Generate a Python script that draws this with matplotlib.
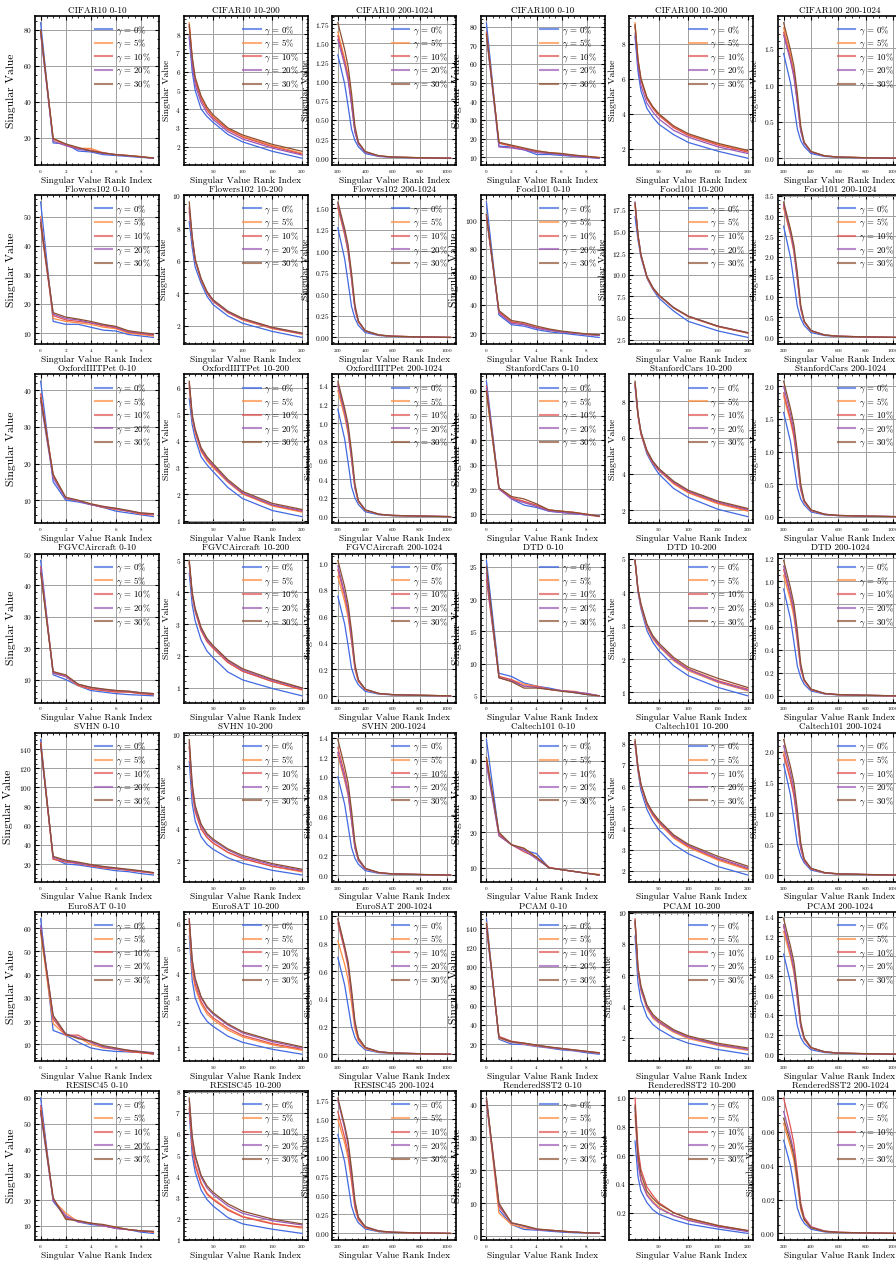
import matplotlib
matplotlib.use('Agg')
import matplotlib.pyplot as plt
from matplotlib.ticker import MultipleLocator, AutoMinorLocator

plt.rcParams['font.family'] = 'serif'
plt.rcParams['font.serif'] = ['cmr10', 'DejaVu Serif']
plt.rcParams['mathtext.fontset'] = 'cm'
plt.rcParams['axes.formatter.use_mathtext'] = True
plt.rcParams['axes.unicode_minus'] = False

# rank indices of the three zoom windows
rank_head = [0, 1, 2, 3, 4, 5, 6, 7, 8, 9]
rank_mid = [10, 15, 20, 30, 40, 50, 75, 100, 150, 200]
rank_tail = [200, 250, 275, 300, 325, 350, 400, 500, 600, 800, 1024]

gammas = ['0%', '5%', '10%', '20%', '30%']
colors = ['#4169E1', '#FF8C42', '#E05252', '#9B59B6', '#8C5030']

datasets = ['CIFAR10', 'CIFAR100', 'Flowers102', 'Food101', 'OxfordIIITPet', 'StanfordCars',
            'FGVCAircraft', 'DTD', 'SVHN', 'Caltech101', 'EuroSAT', 'PCAM', 'RESISC45', 'RenderedSST2']

# singular values, one list per gamma (0, 5, 10, 20, 30 %)
cifar10_head = [[84, 17, 16.5, 12.5, 12, 10.5, 10, 9.5, 9, 8.5],
                [79, 19, 16, 14, 14, 11.5, 10.5, 10, 9.5, 8.5],
                [79, 19.5, 16, 14, 13, 11.5, 10.5, 10, 9.3, 8.5],
                [78, 18, 15.5, 13.5, 12.5, 11, 10.5, 9.8, 9.2, 8.5],
                [80, 19.5, 16.5, 14.5, 12.5, 11.5, 10.5, 10, 9.3, 8.7]]
cifar10_mid = [[7.8, 6.0, 5.0, 4.0, 3.6, 3.3, 2.65, 2.25, 1.75, 1.38],
               [8.6, 6.7, 5.6, 4.6, 4.0, 3.6, 2.95, 2.55, 2.05, 1.65],
               [8.4, 6.6, 5.5, 4.5, 3.95, 3.55, 2.9, 2.5, 2.0, 1.6],
               [7.9, 6.3, 5.3, 4.35, 3.8, 3.45, 2.8, 2.4, 1.92, 1.55],
               [8.5, 6.8, 5.7, 4.7, 4.1, 3.7, 3.0, 2.62, 2.12, 1.75]]
cifar10_tail = [[1.35, 0.97, 0.68, 0.38, 0.23, 0.15, 0.061, 0.023, 0.012, 0.005, 0],
                [1.65, 1.30, 1.09, 0.74, 0.36, 0.20, 0.083, 0.030, 0.015, 0.007, 0],
                [1.6, 1.26, 1.06, 0.72, 0.35, 0.19, 0.08, 0.029, 0.014, 0.006, 0],
                [1.55, 1.22, 1.02, 0.70, 0.34, 0.19, 0.078, 0.028, 0.014, 0.006, 0],
                [1.77, 1.42, 1.20, 0.85, 0.42, 0.21, 0.089, 0.032, 0.016, 0.007, 0]]

cifar100_head = [[82, 16, 15.5, 14, 11.5, 11.5, 11, 10.5, 10, 9.5],
                 [76, 18, 16, 14.5, 13.5, 12.5, 12, 11, 10.5, 10],
                 [77, 17.5, 16, 14.5, 13, 12.5, 11.5, 11, 10.5, 9.8],
                 [75, 15.5, 15, 14, 12.5, 12, 11.5, 10.5, 10, 9.5],
                 [76, 18, 16.5, 15, 13.5, 12.5, 12, 11.2, 10.5, 9.8]]
cifar100_mid = [[8.4, 6.4, 5.3, 4.3, 3.8, 3.4, 2.8, 2.35, 1.85, 1.45],
                [9.2, 7.1, 6.0, 4.9, 4.35, 3.95, 3.25, 2.8, 2.25, 1.85],
                [9.0, 7.0, 5.9, 4.85, 4.3, 3.9, 3.2, 2.75, 2.2, 1.8],
                [8.6, 6.7, 5.6, 4.6, 4.1, 3.7, 3.05, 2.65, 2.1, 1.72],
                [9.1, 7.1, 6.0, 4.95, 4.4, 4.0, 3.3, 2.85, 2.3, 1.9]]
cifar100_tail = [[1.43, 1.03, 0.72, 0.40, 0.24, 0.16, 0.064, 0.024, 0.013, 0.006, 0],
                 [1.78, 1.41, 1.17, 0.80, 0.39, 0.21, 0.089, 0.032, 0.016, 0.007, 0],
                 [1.72, 1.36, 1.14, 0.77, 0.38, 0.21, 0.086, 0.031, 0.015, 0.007, 0],
                 [1.68, 1.33, 1.11, 0.76, 0.37, 0.20, 0.084, 0.030, 0.015, 0.007, 0],
                 [1.85, 1.48, 1.26, 0.89, 0.44, 0.22, 0.093, 0.033, 0.017, 0.007, 0]]

flowers102_head = [[55, 14, 13, 13, 12, 11, 10.7, 9.5, 9, 8.5],
                   [50, 15, 14, 13.5, 13, 12, 11.5, 10, 9.5, 9],
                   [47, 16, 14.5, 14, 13.5, 12.5, 11.8, 10.3, 9.8, 9.3],
                   [49, 16.5, 15, 14.5, 13.5, 12.8, 12, 10.5, 10, 9.5],
                   [48, 17, 15.5, 14.8, 14, 13, 12.3, 10.8, 10.2, 9.7]]
flowers102_mid = [[8.4, 6.8, 5.6, 4.6, 3.8, 3.3, 2.6, 2.15, 1.65, 1.28],
                  [9.2, 7.3, 6.0, 4.8, 4.0, 3.5, 2.8, 2.35, 1.82, 1.48],
                  [9.0, 7.3, 6.0, 4.8, 4.0, 3.5, 2.82, 2.38, 1.85, 1.5],
                  [9.3, 7.4, 6.05, 4.85, 4.05, 3.55, 2.85, 2.42, 1.88, 1.52],
                  [9.6, 7.5, 6.1, 4.9, 4.1, 3.6, 2.9, 2.45, 1.9, 1.55]]
flowers102_tail = [[1.27, 0.91, 0.64, 0.36, 0.22, 0.14, 0.057, 0.022, 0.011, 0.005, 0],
                   [1.5, 1.19, 0.99, 0.68, 0.33, 0.18, 0.075, 0.027, 0.014, 0.006, 0],
                   [1.52, 1.20, 1.0, 0.68, 0.33, 0.18, 0.076, 0.027, 0.014, 0.006, 0],
                   [1.55, 1.22, 1.02, 0.70, 0.34, 0.19, 0.078, 0.028, 0.014, 0.006, 0],
                   [1.57, 1.26, 1.07, 0.75, 0.38, 0.19, 0.079, 0.028, 0.014, 0.006, 0]]

food101_head = [[113, 33, 26, 25, 22.5, 21, 20, 19, 18, 17],
                [104, 35, 28, 26.5, 24, 22, 21, 20, 19, 18.5],
                [102, 35, 28, 26.5, 24, 22.5, 21, 20, 19.5, 18.5],
                [104, 34, 27, 26, 23.5, 22, 21, 20, 19, 18.5],
                [104, 36, 29, 27.5, 25, 23, 21.5, 20.5, 19.5, 19]]
food101_mid = [[16.7, 14.0, 12.0, 9.6, 8.3, 7.3, 5.8, 4.6, 3.5, 2.75],
               [18.2, 14.5, 12.2, 9.7, 8.4, 7.6, 6.15, 5.15, 4.0, 3.25],
               [18.0, 14.4, 12.2, 9.7, 8.4, 7.6, 6.15, 5.15, 4.0, 3.25],
               [18.4, 14.6, 12.3, 9.8, 8.5, 7.65, 6.2, 5.2, 4.05, 3.3],
               [18.3, 14.6, 12.3, 9.8, 8.5, 7.65, 6.2, 5.2, 4.05, 3.3]]
food101_tail = [[2.75, 1.98, 1.38, 0.77, 0.47, 0.30, 0.12, 0.047, 0.025, 0.011, 0],
                [3.2, 2.53, 2.11, 1.44, 0.70, 0.38, 0.16, 0.058, 0.029, 0.013, 0],
                [3.25, 2.57, 2.15, 1.46, 0.72, 0.39, 0.16, 0.059, 0.029, 0.013, 0],
                [3.3, 2.61, 2.18, 1.49, 0.73, 0.40, 0.17, 0.059, 0.030, 0.013, 0],
                [3.35, 2.68, 2.28, 1.61, 0.80, 0.40, 0.17, 0.06, 0.03, 0.013, 0]]

pets_head = [[42.5, 15, 10, 9.5, 8.8, 8, 7, 6.5, 6, 5.5],
             [38, 16.5, 10.5, 9.8, 9, 8.2, 7.5, 7, 6.2, 6],
             [39, 17, 10.5, 9.8, 8.8, 8, 7.5, 7, 6.2, 6],
             [37, 16, 10.5, 9.8, 8.8, 8.2, 7.7, 7, 6.5, 6.2],
             [38, 17, 10.8, 10, 9, 8.3, 7.8, 7.2, 6.5, 6.3]]
pets_mid = [[5.6, 4.6, 4.1, 3.4, 3.1, 2.85, 2.25, 1.83, 1.38, 1.15],
            [6.0, 4.85, 4.3, 3.6, 3.25, 3.0, 2.45, 2.0, 1.55, 1.32],
            [6.1, 4.9, 4.35, 3.65, 3.3, 3.05, 2.48, 2.02, 1.58, 1.35],
            [6.2, 4.9, 4.4, 3.7, 3.35, 3.1, 2.5, 2.05, 1.6, 1.38],
            [6.25, 5.0, 4.45, 3.75, 3.4, 3.15, 2.55, 2.1, 1.65, 1.42]]
pets_tail = [[1.15, 0.83, 0.58, 0.32, 0.20, 0.13, 0.052, 0.020, 0.010, 0.005, 0],
             [1.35, 1.07, 0.89, 0.61, 0.30, 0.16, 0.068, 0.024, 0.012, 0.005, 0],
             [1.4, 1.11, 0.92, 0.63, 0.31, 0.17, 0.07, 0.025, 0.013, 0.006, 0],
             [1.42, 1.12, 0.94, 0.64, 0.31, 0.17, 0.071, 0.026, 0.013, 0.006, 0],
             [1.45, 1.16, 0.99, 0.70, 0.35, 0.17, 0.073, 0.026, 0.013, 0.006, 0]]

cars_head = [[64, 20.5, 16, 13.5, 12.5, 11, 10.5, 10, 9.5, 9.2],
             [59, 20, 16.5, 15, 13, 11.5, 11, 10.5, 9.5, 8.8],
             [62, 20.5, 16.5, 15, 13.5, 11.5, 11, 10.5, 9.8, 9],
             [61, 20, 16, 14.5, 13, 11, 10.5, 10, 9.5, 9],
             [60, 20.5, 17, 16, 14, 11.5, 11, 10.5, 9.8, 9]]
cars_mid = [[8.8, 7.2, 6.2, 5.1, 4.5, 4.0, 3.2, 2.7, 2.05, 1.65],
            [9.0, 7.2, 6.2, 5.2, 4.6, 4.2, 3.45, 2.95, 2.35, 1.95],
            [8.9, 7.2, 6.2, 5.2, 4.6, 4.2, 3.5, 3.0, 2.4, 2.0],
            [9.0, 7.3, 6.3, 5.25, 4.65, 4.25, 3.55, 3.05, 2.45, 2.05],
            [9.1, 7.3, 6.3, 5.3, 4.7, 4.3, 3.6, 3.1, 2.5, 2.1]]
cars_tail = [[1.6, 1.15, 0.80, 0.45, 0.27, 0.18, 0.072, 0.027, 0.014, 0.006, 0],
             [1.85, 1.46, 1.22, 0.83, 0.41, 0.22, 0.093, 0.033, 0.017, 0.007, 0],
             [1.9, 1.50, 1.25, 0.86, 0.42, 0.23, 0.095, 0.034, 0.017, 0.008, 0],
             [2.0, 1.58, 1.32, 0.90, 0.44, 0.24, 0.10, 0.036, 0.018, 0.008, 0],
             [2.08, 1.66, 1.41, 1.0, 0.50, 0.25, 0.104, 0.037, 0.019, 0.008, 0]]

aircraft_head = [[48, 11.5, 10, 8, 6.5, 6, 5.5, 5.2, 5, 4.8],
                 [45, 12, 11, 8, 7, 6.5, 6.2, 6, 5.5, 5.2],
                 [46, 12.5, 11, 8.2, 7, 6.5, 6, 6, 5.5, 5.2],
                 [45, 12, 11, 8.5, 7.5, 6.8, 6.5, 6.2, 5.8, 5.5],
                 [44, 12.5, 11.5, 8.5, 7.5, 7, 6.5, 6.3, 5.8, 5.5]]
aircraft_mid = [[4.6, 3.6, 3.1, 2.5, 2.15, 1.95, 1.5, 1.25, 0.98, 0.75],
                [4.9, 3.9, 3.4, 2.8, 2.45, 2.25, 1.8, 1.52, 1.2, 0.93],
                [4.9, 3.9, 3.4, 2.8, 2.45, 2.25, 1.8, 1.52, 1.2, 0.95],
                [4.95, 3.95, 3.45, 2.85, 2.5, 2.3, 1.85, 1.56, 1.24, 0.98],
                [5.0, 4.0, 3.5, 2.9, 2.55, 2.33, 1.88, 1.6, 1.27, 1.0]]
aircraft_tail = [[0.75, 0.54, 0.38, 0.21, 0.13, 0.083, 0.034, 0.013, 0.007, 0.003, 0],
                 [0.9, 0.71, 0.59, 0.41, 0.20, 0.11, 0.045, 0.016, 0.008, 0.004, 0],
                 [0.95, 0.75, 0.63, 0.43, 0.21, 0.11, 0.048, 0.017, 0.009, 0.004, 0],
                 [0.98, 0.77, 0.65, 0.44, 0.22, 0.12, 0.049, 0.018, 0.009, 0.004, 0],
                 [1.02, 0.82, 0.69, 0.49, 0.24, 0.12, 0.051, 0.018, 0.009, 0.004, 0]]

dtd_head = [[26, 8.5, 8, 7, 6.5, 6.2, 5.8, 5.5, 5.2, 5],
            [24, 8, 7.5, 6.8, 6.5, 6, 5.8, 5.7, 5.3, 5],
            [23, 8, 7.5, 6.5, 6.5, 6, 5.8, 5.6, 5.3, 5],
            [24, 7.8, 7.3, 6.5, 6.3, 6, 5.8, 5.6, 5.4, 5],
            [25, 7.8, 7.2, 6.2, 6.2, 6, 5.7, 5.5, 5.2, 5]]
dtd_mid = [[4.95, 4.0, 3.5, 2.85, 2.5, 2.25, 1.8, 1.5, 1.15, 0.9],
           [4.95, 4.05, 3.55, 2.95, 2.6, 2.38, 1.95, 1.65, 1.3, 1.05],
           [4.95, 4.05, 3.6, 3.0, 2.65, 2.42, 2.0, 1.7, 1.35, 1.1],
           [4.95, 4.05, 3.6, 3.0, 2.65, 2.42, 1.98, 1.68, 1.32, 1.07],
           [4.95, 4.1, 3.65, 3.05, 2.7, 2.48, 2.05, 1.75, 1.42, 1.15]]
dtd_tail = [[0.93, 0.67, 0.47, 0.26, 0.16, 0.10, 0.042, 0.016, 0.008, 0.004, 0],
            [1.05, 0.83, 0.69, 0.47, 0.23, 0.13, 0.053, 0.019, 0.009, 0.004, 0],
            [1.1, 0.87, 0.73, 0.50, 0.24, 0.13, 0.055, 0.020, 0.010, 0.004, 0],
            [1.13, 0.89, 0.75, 0.51, 0.25, 0.14, 0.057, 0.020, 0.010, 0.005, 0],
            [1.18, 0.94, 0.80, 0.57, 0.28, 0.14, 0.059, 0.021, 0.011, 0.005, 0]]

svhn_head = [[150, 26, 20, 19, 17, 15, 13, 12, 10, 8.5],
             [146, 25, 23, 21, 18.5, 16, 15, 13.5, 12, 10.5],
             [147, 25, 22, 20.5, 18, 16, 15, 13.5, 12, 10.5],
             [143, 27, 23, 21, 19, 17, 15.5, 14, 12.5, 11],
             [145, 28, 24, 22, 19.5, 17.5, 16, 14.5, 13, 11]]
svhn_mid = [[8.3, 5.6, 4.5, 3.5, 3.0, 2.7, 2.15, 1.8, 1.35, 1.05],
            [9.3, 6.4, 5.1, 4.0, 3.45, 3.1, 2.5, 2.1, 1.6, 1.25],
            [9.2, 6.4, 5.1, 4.0, 3.45, 3.1, 2.5, 2.1, 1.6, 1.3],
            [9.5, 6.7, 5.3, 4.2, 3.6, 3.25, 2.65, 2.2, 1.7, 1.35],
            [9.7, 6.9, 5.5, 4.3, 3.7, 3.35, 2.72, 2.3, 1.78, 1.42]]
svhn_tail = [[1.0, 0.72, 0.50, 0.28, 0.17, 0.11, 0.045, 0.017, 0.009, 0.004, 0],
             [1.22, 0.96, 0.81, 0.55, 0.27, 0.15, 0.061, 0.022, 0.011, 0.005, 0],
             [1.3, 1.03, 0.86, 0.59, 0.29, 0.16, 0.065, 0.023, 0.012, 0.005, 0],
             [1.25, 0.99, 0.83, 0.56, 0.28, 0.15, 0.063, 0.023, 0.011, 0.005, 0],
             [1.38, 1.10, 0.94, 0.66, 0.33, 0.17, 0.069, 0.025, 0.012, 0.006, 0]]

caltech_head = [[46, 19.5, 16.5, 15, 14, 10, 9.5, 9, 8.5, 8],
                [41, 19, 16.5, 15.5, 13, 10, 9.5, 9, 8.5, 8.2],
                [40, 19.5, 16.5, 14.5, 13, 10.2, 9.5, 9, 8.5, 8],
                [39, 19, 16.5, 15, 12.5, 10, 9.5, 9, 8.5, 8],
                [41, 20, 16.5, 15.5, 13, 10, 9.5, 9, 8.5, 8]]
caltech_mid = [[8.0, 6.7, 5.8, 4.9, 4.35, 3.95, 3.25, 2.8, 2.2, 1.8],
               [8.0, 6.8, 6.0, 5.1, 4.6, 4.25, 3.55, 3.1, 2.5, 2.05],
               [8.1, 6.8, 6.0, 5.15, 4.65, 4.3, 3.6, 3.15, 2.55, 2.1],
               [8.1, 6.9, 6.05, 5.2, 4.7, 4.35, 3.65, 3.2, 2.6, 2.15],
               [8.2, 6.9, 6.1, 5.25, 4.75, 4.4, 3.7, 3.25, 2.68, 2.22]]
caltech_tail = [[1.8, 1.30, 0.90, 0.50, 0.31, 0.20, 0.081, 0.031, 0.016, 0.007, 0],
                [2.0, 1.58, 1.32, 0.90, 0.44, 0.24, 0.10, 0.036, 0.018, 0.008, 0],
                [1.95, 1.54, 1.29, 0.88, 0.43, 0.23, 0.098, 0.035, 0.018, 0.008, 0],
                [2.1, 1.66, 1.39, 0.95, 0.46, 0.25, 0.105, 0.038, 0.019, 0.008, 0],
                [2.2, 1.76, 1.50, 1.06, 0.53, 0.26, 0.11, 0.040, 0.020, 0.009, 0]]

eurosat_head = [[64, 16, 14, 11, 8.5, 7.5, 7, 6.8, 6.5, 6],
                [58, 19, 14, 13, 10, 8.5, 8, 7, 6.5, 6],
                [60, 21, 14, 14, 11, 9, 8, 7, 6.5, 5.8],
                [61, 22, 14.5, 13, 11, 9, 8, 7.5, 7, 6.5],
                [59, 22.5, 14.5, 12.5, 11.5, 9.5, 8.5, 7.5, 6.8, 6.2]]
eurosat_mid = [[5.5, 3.7, 3.0, 2.4, 2.05, 1.85, 1.45, 1.2, 0.92, 0.72],
               [5.8, 4.1, 3.4, 2.75, 2.35, 2.12, 1.7, 1.42, 1.1, 0.88],
               [6.1, 4.3, 3.55, 2.85, 2.45, 2.2, 1.78, 1.48, 1.15, 0.92],
               [6.2, 4.5, 3.7, 3.0, 2.6, 2.35, 1.9, 1.58, 1.23, 0.98],
               [6.2, 4.55, 3.8, 3.05, 2.65, 2.4, 1.95, 1.63, 1.28, 1.02]]
eurosat_tail = [[0.7, 0.50, 0.35, 0.20, 0.12, 0.077, 0.032, 0.012, 0.006, 0.003, 0],
                [0.82, 0.65, 0.54, 0.37, 0.18, 0.098, 0.041, 0.015, 0.007, 0.003, 0],
                [0.95, 0.75, 0.63, 0.43, 0.21, 0.11, 0.048, 0.017, 0.009, 0.004, 0],
                [0.98, 0.77, 0.65, 0.44, 0.22, 0.12, 0.049, 0.018, 0.009, 0.004, 0],
                [0.98, 0.78, 0.67, 0.47, 0.24, 0.12, 0.049, 0.018, 0.009, 0.004, 0]]

pcam_head = [[150, 25, 20, 19.5, 17.5, 16, 14, 13, 11, 9.5],
             [146, 26, 22, 20, 18, 16.5, 15, 13.5, 12, 10.5],
             [143, 28, 23, 21, 19, 17, 15.5, 14, 12.5, 11],
             [141, 27, 22, 20.5, 18.5, 16.5, 15, 13.5, 12, 10.5],
             [145, 27, 22.5, 21, 19, 17, 15.5, 14, 12.5, 11]]
pcam_mid = [[8.5, 5.5, 4.4, 3.35, 2.85, 2.55, 2.0, 1.65, 1.25, 0.95],
            [9.3, 6.2, 5.0, 3.85, 3.25, 2.95, 2.35, 1.95, 1.5, 1.2],
            [9.6, 6.4, 5.2, 4.0, 3.4, 3.05, 2.45, 2.05, 1.58, 1.28],
            [9.4, 6.3, 5.1, 3.95, 3.35, 3.0, 2.42, 2.02, 1.55, 1.25],
            [9.5, 6.5, 5.3, 4.1, 3.5, 3.15, 2.52, 2.12, 1.65, 1.35]]
pcam_tail = [[1.02, 0.73, 0.51, 0.29, 0.17, 0.11, 0.046, 0.017, 0.009, 0.004, 0],
             [1.25, 0.99, 0.83, 0.56, 0.28, 0.15, 0.063, 0.023, 0.011, 0.005, 0],
             [1.3, 1.03, 0.86, 0.59, 0.29, 0.16, 0.065, 0.023, 0.012, 0.005, 0],
             [1.32, 1.04, 0.87, 0.59, 0.29, 0.16, 0.066, 0.024, 0.012, 0.005, 0],
             [1.38, 1.10, 0.94, 0.66, 0.33, 0.17, 0.069, 0.025, 0.012, 0.006, 0]]

resisc_head = [[60, 19.5, 13.5, 11.5, 10.5, 10, 9, 8.5, 7.5, 7],
               [56, 20, 15, 11.5, 11, 10, 9.5, 8.5, 8, 7.5],
               [57, 20.5, 13, 12, 11, 10, 9, 8.5, 8, 7.5],
               [54, 20, 14, 11.5, 11, 10, 9, 8.5, 8, 7.8],
               [55, 21, 12.5, 12, 11, 10.5, 9.5, 8.5, 8, 7.8]]
resisc_mid = [[7.0, 5.0, 4.2, 3.35, 2.9, 2.6, 2.05, 1.75, 1.5, 1.3],
              [7.3, 5.5, 4.6, 3.7, 3.2, 2.95, 2.45, 2.1, 1.78, 1.55],
              [7.2, 5.4, 4.5, 3.65, 3.15, 2.9, 2.4, 2.08, 1.75, 1.6],
              [7.6, 5.8, 4.9, 3.95, 3.45, 3.15, 2.6, 2.25, 1.9, 1.7],
              [7.7, 5.9, 5.0, 4.05, 3.55, 3.25, 2.7, 2.35, 1.98, 1.75]]
resisc_tail = [[1.3, 0.94, 0.65, 0.36, 0.22, 0.14, 0.059, 0.022, 0.012, 0.005, 0],
               [1.5, 1.19, 0.99, 0.68, 0.33, 0.18, 0.075, 0.027, 0.014, 0.006, 0],
               [1.6, 1.26, 1.06, 0.72, 0.35, 0.19, 0.08, 0.029, 0.014, 0.006, 0],
               [1.75, 1.38, 1.16, 0.79, 0.39, 0.21, 0.088, 0.032, 0.016, 0.007, 0],
               [1.78, 1.42, 1.21, 0.85, 0.43, 0.21, 0.089, 0.032, 0.016, 0.007, 0]]

sst2_head = [[42, 8, 3.5, 2, 1.8, 1.5, 1.2, 1, 0.9, 0.8],
             [41, 7, 3.5, 2.5, 2, 1.8, 1.5, 1.2, 1, 0.9],
             [41, 9, 4, 3, 2, 1.8, 1.5, 1.2, 1, 0.9],
             [41, 9.5, 4, 3, 2, 1.7, 1.4, 1.2, 1, 0.9],
             [42, 10, 4, 3.2, 2.2, 1.8, 1.5, 1.2, 1, 0.9]]
sst2_mid = [[0.70, 0.45, 0.35, 0.27, 0.22, 0.19, 0.15, 0.12, 0.085, 0.055],
            [0.88, 0.55, 0.43, 0.33, 0.28, 0.24, 0.18, 0.15, 0.105, 0.07],
            [1.0, 0.65, 0.5, 0.38, 0.32, 0.27, 0.2, 0.16, 0.11, 0.075],
            [0.93, 0.55, 0.42, 0.32, 0.27, 0.23, 0.18, 0.145, 0.1, 0.068],
            [0.95, 0.6, 0.47, 0.35, 0.3, 0.26, 0.2, 0.16, 0.11, 0.075]]
sst2_tail = [[0.055, 0.040, 0.028, 0.015, 0.0094, 0.006, 0.0025, 0.0009, 0.0005, 0.0002, 0],
             [0.065, 0.051, 0.043, 0.029, 0.014, 0.0078, 0.0033, 0.0012, 0.0006, 0.0003, 0],
             [0.08, 0.063, 0.053, 0.036, 0.018, 0.0096, 0.004, 0.0014, 0.0007, 0.0003, 0],
             [0.072, 0.057, 0.048, 0.032, 0.016, 0.0086, 0.0036, 0.0013, 0.0006, 0.0003, 0],
             [0.068, 0.054, 0.046, 0.033, 0.016, 0.0082, 0.0034, 0.0012, 0.0006, 0.0003, 0]]

heads = [cifar10_head, cifar100_head, flowers102_head, food101_head, pets_head, cars_head, aircraft_head,
         dtd_head, svhn_head, caltech_head, eurosat_head, pcam_head, resisc_head, sst2_head]
mids = [cifar10_mid, cifar100_mid, flowers102_mid, food101_mid, pets_mid, cars_mid, aircraft_mid,
        dtd_mid, svhn_mid, caltech_mid, eurosat_mid, pcam_mid, resisc_mid, sst2_mid]
tails = [cifar10_tail, cifar100_tail, flowers102_tail, food101_tail, pets_tail, cars_tail, aircraft_tail,
         dtd_tail, svhn_tail, caltech_tail, eurosat_tail, pcam_tail, resisc_tail, sst2_tail]

# y tick step per panel (head, mid, tail)
ysteps = [(20, 1, 0.25), (10, 2, 0.5), (10, 2, 0.25), (20, 2.5, 0.5), (10, 1, 0.2), (10, 2, 0.5),
          (10, 1, 0.2), (5, 1, 0.2), (20, 2, 0.2), (10, 1, 0.5), (10, 1, 0.2), (20, 2, 0.2),
          (10, 1, 0.25), (10, 0.2, 0.02)]

W, H = 896, 1261
fig = plt.figure(figsize=(W / 100, H / 100), dpi=100)

ax_w, ax_h = 124, 149
col_pitch, row_pitch = 148.6, 179.2

windows = [('0-10', rank_head, heads, 2), ('10-200', rank_mid, mids, 50), ('200-1024', rank_tail, tails, 200)]

for i, name in enumerate(datasets):
    row = i // 2
    for k, (suffix, xs, vals, xstep) in enumerate(windows):
        col = 3 * (i % 2) + k
        left = 35 + col * col_pitch
        top = 16 + row * row_pitch
        ax = fig.add_axes([left / W, (H - top - ax_h) / H, ax_w / W, ax_h / H])
        for j, series in enumerate(vals[i]):
            ax.plot(xs, series, color=colors[j], lw=0.9, label=r'$\gamma$ = ' + gammas[j])

        ax.set_title(f'{name} {suffix}', fontsize=6.6, pad=2.5)
        ax.set_xlabel('Singular Value Rank Index', fontsize=6.8, labelpad=1)
        ax.set_ylabel('Singular Value', fontsize=8.3 if k == 0 else 6.9)
        ax.xaxis.set_major_locator(MultipleLocator(xstep))
        ax.yaxis.set_major_locator(MultipleLocator(ysteps[i][k]))
        ax.xaxis.set_minor_locator(AutoMinorLocator())
        ax.yaxis.set_minor_locator(AutoMinorLocator())
        ax.tick_params(which='both', direction='in', top=True, right=True)
        ax.tick_params(which='major', length=3, width=0.8)
        ax.tick_params(which='minor', length=1.5, width=0.6)
        ax.tick_params(axis='x', labelsize=3.6, pad=2)
        ax.tick_params(axis='y', labelsize=5.3, pad=2)
        ax.grid(True, color='0.62', lw=0.7)
        for sp in ax.spines.values():
            sp.set_linewidth(1.2)

        leg = ax.legend(loc='upper right', fontsize=6.4, frameon=False, handlelength=2.0,
                        handletextpad=0.4, labelspacing=0.1, borderaxespad=0.5)
        for h in leg.get_lines():
            h.set_linewidth(1.5)
            h.set_alpha(0.7)

        # y label sits close to the axis, overlapping long tick labels as in the source
        locs = [t for t in ax.get_yticks() if ax.get_ylim()[0] <= t <= ax.get_ylim()[1]]
        labels = ax.yaxis.get_major_formatter().format_ticks(locs)
        n = max(len(s.replace('$\\mathdefault{', '').replace('}$', '')) for s in labels)
        off = (13 + 3 * n) if k == 0 else (9.5 + 3.3 * n)
        ax.yaxis.set_label_coords(-off / ax_w, 0.5)

fig.savefig('out.png', dpi=100)
